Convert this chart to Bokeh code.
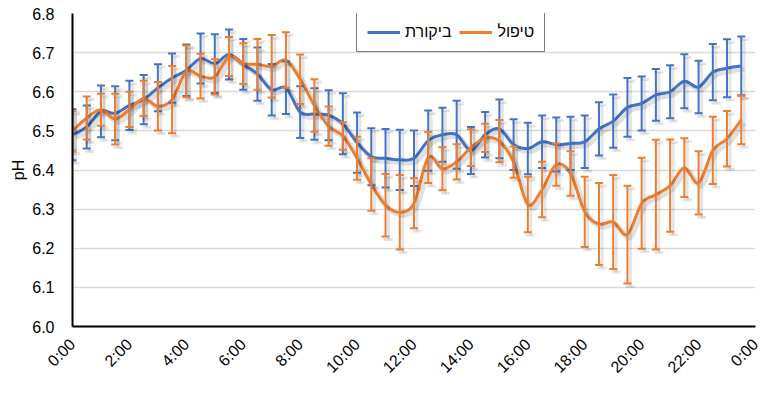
import numpy as np
from math import pi
from bokeh.plotting import figure
from bokeh.models import (ColumnDataSource, Whisker, TeeHead, FixedTicker, Legend,
                          LegendItem, Range1d, PrintfTickFormatter)
from bokeh.embed import file_html
from bokeh.resources import INLINE

# ---------------- data ----------------
times = ["0:00", "0:30", "1:00", "1:30", "2:00", "2:30", "3:00", "3:30",
         "4:00", "4:30", "5:00", "5:30", "6:00", "6:30", "7:00", "7:30",
         "8:00", "8:30", "9:00", "9:30", "10:00", "10:30", "11:00", "11:30",
         "12:00", "12:30", "13:00", "13:30", "14:00", "14:30", "15:00", "15:30",
         "16:00", "16:30", "17:00", "17:30", "18:00", "18:30", "19:00", "19:30",
         "20:00", "20:30", "21:00", "21:30", "22:00", "22:30", "23:00", "23:30"]

control_label = "ביקורת"
control_mean = [6.49, 6.51, 6.55, 6.545, 6.565, 6.58, 6.61, 6.635,
                6.655, 6.685, 6.672, 6.695, 6.67, 6.645, 6.605, 6.61,
                6.548, 6.543, 6.54, 6.518, 6.47, 6.434, 6.43, 6.426,
                6.43, 6.475, 6.49, 6.49, 6.45, 6.49, 6.505, 6.465,
                6.455, 6.472, 6.465, 6.468, 6.472, 6.505, 6.525, 6.56,
                6.57, 6.592, 6.60, 6.627, 6.612, 6.65, 6.66, 6.666]
control_err = [0.065, 0.055, 0.066, 0.069, 0.063, 0.063, 0.060, 0.063,
               0.066, 0.064, 0.075, 0.064, 0.065, 0.068, 0.066, 0.067,
               0.066, 0.066, 0.064, 0.078, 0.077, 0.073, 0.075, 0.077,
               0.071, 0.077, 0.069, 0.087, 0.060, 0.058, 0.075, 0.065,
               0.066, 0.067, 0.069, 0.068, 0.067, 0.068, 0.068, 0.075,
               0.069, 0.066, 0.068, 0.069, 0.067, 0.072, 0.074, 0.075]

treat_label = "טיפול"
treat_mean = [6.50, 6.533, 6.554, 6.53, 6.555, 6.583, 6.563, 6.58,
              6.652, 6.64, 6.638, 6.69, 6.672, 6.67, 6.665, 6.681,
              6.632, 6.565, 6.512, 6.487, 6.43, 6.363, 6.31, 6.292,
              6.315, 6.432, 6.403, 6.421, 6.457, 6.482, 6.474, 6.42,
              6.312, 6.35, 6.414, 6.391, 6.293, 6.262, 6.267, 6.235,
              6.315, 6.337, 6.36, 6.406, 6.367, 6.45, 6.48, 6.528]
treat_err = [0.050, 0.055, 0.041, 0.065, 0.045, 0.045, 0.062, 0.086,
             0.066, 0.057, 0.045, 0.050, 0.052, 0.065, 0.080, 0.071,
             0.063, 0.067, 0.050, 0.035, 0.055, 0.067, 0.080, 0.095,
             0.064, 0.065, 0.055, 0.045, 0.047, 0.036, 0.054, 0.040,
             0.071, 0.071, 0.054, 0.057, 0.090, 0.105, 0.120, 0.125,
             0.116, 0.140, 0.118, 0.075, 0.081, 0.086, 0.071, 0.062]

x_tick_hours = [0, 2, 4, 6, 8, 10, 12, 14, 16, 18, 20, 22, 24]
x_tick_labels = ["0:00", "2:00", "4:00", "6:00", "8:00", "10:00", "12:00",
                 "14:00", "16:00", "18:00", "20:00", "22:00", "0:00"]
y_ticks = [6.0, 6.1, 6.2, 6.3, 6.4, 6.5, 6.6, 6.7, 6.8]

# ---------------- style ----------------
BLUE = "#4472C4"
ORANGE = "#ED7D31"
FONT = "Liberation Sans"
FS = "16px"


def to_hours(t):
    h, m = t.split(":")
    return int(h) + int(m) / 60.0


x = np.array([to_hours(t) for t in times])


def smooth_segments(xs, ys, t=1.0 / 6.0):
    """Cubic bezier control points (Catmull-Rom style, like Excel's smoothed line)."""
    P = np.column_stack([xs, ys]).astype(float)
    n = len(P)
    Pm = np.vstack([P[0], P, P[-1]])
    prev = Pm[0:n - 1]
    nxt = Pm[3:n + 2]
    c0 = P[:-1] + (P[1:] - prev) * t
    c1 = P[1:] - (nxt - P[:-1]) * t
    return dict(x0=P[:-1, 0], y0=P[:-1, 1], x1=P[1:, 0], y1=P[1:, 1],
                cx0=c0[:, 0], cy0=c0[:, 1], cx1=c1[:, 0], cy1=c1[:, 1])


p = figure(width=782, height=394, x_range=Range1d(0, 24), y_range=Range1d(6.0, 6.8),
           output_backend="svg", toolbar_location=None,
           min_border_left=72, min_border_right=27, min_border_top=13, min_border_bottom=68)
p.outline_line_color = None
p.background_fill_color = "white"
p.border_fill_color = "white"

# grid
p.xgrid.grid_line_color = None
p.ygrid.grid_line_color = "#D9D9D9"
p.ygrid.grid_line_width = 1.5
p.ygrid.ticker = FixedTicker(ticks=y_ticks)

# axes
p.xaxis.ticker = FixedTicker(ticks=x_tick_hours)
p.xaxis.major_label_overrides = {h: lab for h, lab in zip(x_tick_hours, x_tick_labels)}
p.xaxis.major_label_orientation = pi / 4
p.yaxis.ticker = FixedTicker(ticks=y_ticks)
p.yaxis.formatter = PrintfTickFormatter(format="%.1f")
p.yaxis.axis_label = "pH"
for ax in (p.xaxis, p.yaxis):
    ax.axis_line_color = "black"
    ax.axis_line_width = 2
    ax.major_tick_line_color = None
    ax.minor_tick_line_color = None
    ax.major_tick_in = 0
    ax.major_tick_out = 0
    ax.major_label_text_font = FONT
    ax.major_label_text_font_size = FS
    ax.major_label_text_color = "black"
p.xaxis.major_label_standoff = 15
p.yaxis.major_label_standoff = 18
p.yaxis.axis_label_text_font = FONT
p.yaxis.axis_label_text_font_size = FS
p.yaxis.axis_label_text_font_style = "normal"
p.yaxis.axis_label_text_color = "black"
p.yaxis.axis_label_standoff = 2

# shadow offsets (in px converted to data units)
DX = 3 * 24 / 682
DY = -3 * 0.8 / 313

series = [(control_mean, control_err, BLUE), (treat_mean, treat_err, ORANGE)]

# error bars
for mean, err, col in series:
    m = np.array(mean)
    e = np.array(err)
    sh = ColumnDataSource(dict(x=x + DX, upper=m + e + DY, lower=m - e + DY))
    p.add_layout(Whisker(source=sh, base="x", upper="upper", lower="lower",
                         line_color="black", line_alpha=0.10, line_width=3,
                         upper_head=TeeHead(size=9, line_color="black", line_alpha=0.10, line_width=3),
                         lower_head=TeeHead(size=9, line_color="black", line_alpha=0.10, line_width=3),
                         level="glyph"))
    src = ColumnDataSource(dict(x=x, upper=m + e, lower=m - e))
    p.add_layout(Whisker(source=src, base="x", upper="upper", lower="lower",
                         line_color=col, line_width=2,
                         upper_head=TeeHead(size=8, line_color=col, line_width=2),
                         lower_head=TeeHead(size=8, line_color=col, line_width=2),
                         level="glyph"))

# smoothed lines
legend_renderers = []
for mean, err, col in series:
    seg = smooth_segments(x, mean)
    shadow = {k: (np.array(v) + (DX if k.startswith(("x", "cx")) else DY)) for k, v in seg.items()}
    p.bezier(source=ColumnDataSource(shadow), x0="x0", y0="y0", x1="x1", y1="y1",
             cx0="cx0", cy0="cy0", cx1="cx1", cy1="cy1",
             line_color="black", line_alpha=0.12, line_width=5)
    r = p.bezier(source=ColumnDataSource(seg), x0="x0", y0="y0", x1="x1", y1="y1",
                 cx0="cx0", cy0="cy0", cx1="cx1", cy1="cy1",
                 line_color=col, line_width=3)
    legend_renderers.append(r)

legend = Legend(items=[LegendItem(label=control_label, renderers=[legend_renderers[0]]),
                       LegendItem(label=treat_label, renderers=[legend_renderers[1]])],
                orientation="horizontal", location=(284, 274))
legend.border_line_color = "black"
legend.border_line_width = 1.5
legend.background_fill_color = "white"
legend.background_fill_alpha = 1.0
legend.label_text_font = FONT
legend.label_text_font_size = FS
legend.label_text_color = "black"
legend.glyph_width = 33
legend.glyph_height = 16
legend.label_standoff = 5
legend.spacing = 8
legend.padding = 10
legend.margin = 0
p.add_layout(legend)

open("out.html", "w").write(file_html(p, INLINE))
